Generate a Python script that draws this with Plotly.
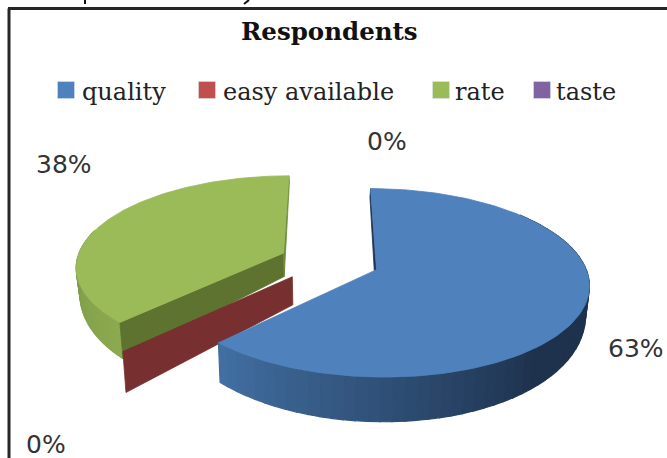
import numpy as np
import plotly.graph_objects as go

# Survey shares
categories = ["quality", "easy available", "rate", "taste"]
percent_labels = [63, 0, 38, 0]
slice_colors = ["#4F81BD", "#C0504D", "#9BBB59", "#8064A2"]
chart_title = "Respondents"

# Where each percentage label and key entry sits on the page
label_anchor = {"quality": (636, 348), "easy available": (46, 444), "rate": (64, 164), "taste": (387, 141)}
swatch_anchor = {"quality": (66, 90), "easy available": (207, 90), "rate": (441, 90), "taste": (542, 90)}
key_text_left = {"quality": 80, "easy available": 221, "rate": 453, "taste": 554}

# Perspective camera for the tilted, exploded pie
CX, CY, SX, SY, K = 328.0, 261.0, 207.0, 90.0, 0.138
EXPLODE = {"quality": 0.25, "easy available": 0.24, "rate": 0.235, "taste": 0.24}


def project(x, y):
    d = 1 + K * np.asarray(y)
    return CX + SX * np.asarray(x) / d, CY - SY * np.asarray(y) / d


def wall_height(y):
    return 25 - 18 * np.asarray(y)


def lower(px, py, y):
    """Bottom edge of the disc, directly under a point on the top face."""
    return CX + (px - CX) * 0.985, py + wall_height(y)


def poly(px, py, color, width=1.2):
    return go.Scatter(
        x=np.r_[px, px[:1]], y=np.r_[py, py[:1]], mode="lines", fill="toself",
        fillcolor=color, line=dict(color=color, width=width), hoverinfo="skip", showlegend=False,
    )


def mix(c0, c1, t):
    return "rgb(%d,%d,%d)" % tuple(round(a + (b - a) * t) for a, b in zip(c0, c1))


total = sum(percent_labels)
starts = np.cumsum([0] + percent_labels[:-1]) / total * 2 * np.pi
sweeps = np.array(percent_labels) / total * 2 * np.pi


def wedge(i):
    """World position of the apex and rim for slice i."""
    mid = starts[i] + sweeps[i] / 2
    e = EXPLODE[categories[i]]
    ax, ay = e * np.sin(mid), e * np.cos(mid)
    t = np.linspace(starts[i], starts[i] + sweeps[i], 160)
    return ax, ay, t, ax + np.sin(t), ay + np.cos(t)


def outer_wall(i, t_lo, t_hi, ramp):
    ax, ay = wedge(i)[:2]
    out = []
    edges = np.linspace(t_lo, t_hi, 61)
    for n in range(60):
        t = np.linspace(edges[n], edges[n + 1], 3)
        x, y = ax + np.sin(t), ay + np.cos(t)
        px, py = project(x, y)
        bx, by = lower(px, py, y)
        out.append(poly(np.r_[px, bx[::-1]], np.r_[py, by[::-1]], ramp((t[1]))))
    return out


def radial_wall(i, angle, color):
    ax, ay = wedge(i)[:2]
    x, y = np.array([ax, ax + np.sin(angle)]), np.array([ay, ay + np.cos(angle)])
    px, py = project(x, y)
    bx, by = lower(px, py, y)
    return poly(np.r_[px, bx[::-1]], np.r_[py, by[::-1]], color, width=0.8)


def top_face(i, color):
    ax, ay, _, rx, ry = wedge(i)
    px, py = project(np.r_[ax, rx], np.r_[ay, ry])
    return poly(px, py, color, width=0.8)


def blue_ramp(t):
    deg = np.degrees(t)
    u = np.clip((224.6 - deg) / 85, 0, 1)
    return mix((66, 112, 163), (30, 50, 78), u)


def green_ramp(t):
    deg = np.degrees(t)
    u = np.clip((deg - 224.6) / 60, 0, 1)
    return mix((140, 170, 80), (122, 150, 70), u)


Q, E, R, T = 0, 1, 2, 3
traces = []

# Far pieces first so nearer ones paint over them
traces.append(radial_wall(Q, 0.0, "#1E3350"))
traces += outer_wall(R, starts[R], starts[R] + sweeps[R] * 0.45, green_ramp)
traces.append(radial_wall(R, starts[R], "#5E7330"))
traces.append(radial_wall(R, starts[R] + sweeps[R], "#6F8A3C"))
traces.append(top_face(R, slice_colors[R]))
traces.append(radial_wall(E, starts[E], "#772F2F"))
traces += outer_wall(Q, np.radians(50), starts[Q] + sweeps[Q], blue_ramp)
traces.append(top_face(Q, slice_colors[Q]))

# Key swatches
for name, color in zip(categories, slice_colors):
    kx, ky = swatch_anchor[name]
    traces.append(go.Scatter(
        x=[kx], y=[ky], mode="markers", name=name,
        marker=dict(symbol="square", size=17, color=color, line=dict(color="#DDE6F0", width=0.5)),
        hoverinfo="skip", showlegend=False,
    ))

fig = go.Figure(traces)

# Key names
for name in categories:
    fig.add_annotation(x=key_text_left[name], y=92, xanchor="left", text=name, showarrow=False,
                       font=dict(family="DejaVu Serif", size=24, color="#222222"))

for name, pct in zip(categories, percent_labels):
    lx, ly = label_anchor[name]
    fig.add_annotation(x=lx, y=ly, text=f"{pct}%", showarrow=False,
                       font=dict(family="DejaVu Sans", size=25, color="#333333"))

fig.add_annotation(x=329, y=31, text=chart_title, showarrow=False,
                   font=dict(family="DejaVu Serif", size=24.5, color="#111111", weight="bold"))

# Stubs of strokes poking in above the panel
fig.add_shape(type="line", x0=85, x1=85, y0=0, y1=4, line=dict(color="#111111", width=2))
fig.add_shape(type="line", x0=249, x1=244, y0=0, y1=4, line=dict(color="#111111", width=2))

# Panel edge running along the top and left
fig.add_shape(type="line", x0=9, x1=9, y0=8.5, y1=458, line=dict(color="#262626", width=3))
fig.add_shape(type="line", x0=8, x1=667, y0=8.5, y1=8.5, line=dict(color="#262626", width=3))

fig.update_layout(
    width=667, height=458, margin=dict(l=0, r=0, t=0, b=0),
    paper_bgcolor="white", plot_bgcolor="white",
    xaxis=dict(visible=False, range=[0, 667], fixedrange=True),
    yaxis=dict(visible=False, range=[458, 0], fixedrange=True),
    showlegend=False,
)

fig.write_html("out.html")
